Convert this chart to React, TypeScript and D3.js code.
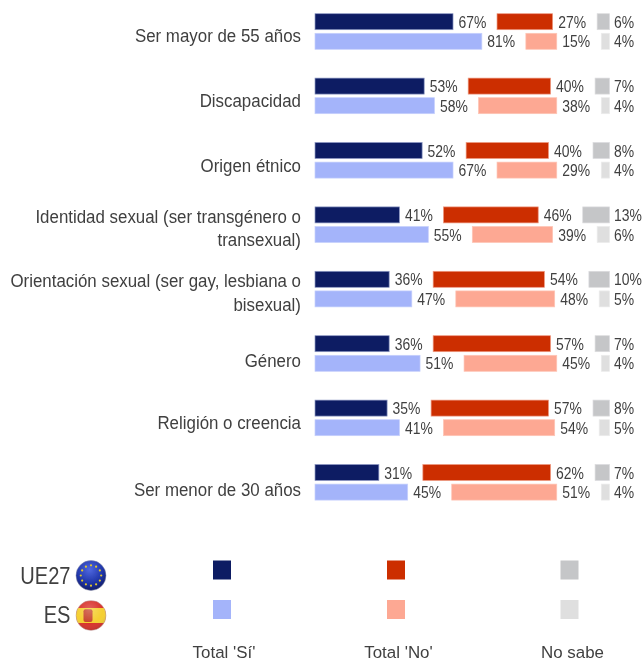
import React from 'react';
import * as d3 from 'd3';

const categories = [
  ['Ser mayor de 55 años'],
  ['Discapacidad'],
  ['Origen étnico'],
  ['Identidad sexual (ser transgénero o', 'transexual)'],
  ['Orientación sexual (ser gay, lesbiana o', 'bisexual)'],
  ['Género'],
  ['Religión o creencia'],
  ['Ser menor de 30 años'],
];
const euYes = [67, 53, 52, 41, 36, 36, 35, 31];
const euNo = [27, 40, 40, 46, 54, 57, 57, 62];
const euDk = [6, 7, 8, 13, 10, 7, 8, 7];
const esYes = [81, 58, 67, 55, 47, 51, 41, 45];
const esNo = [15, 38, 29, 39, 48, 45, 54, 51];
const esDk = [4, 4, 4, 6, 5, 4, 5, 4];
const legendLabels = ["Total 'Sí'", "Total 'No'", 'No sabe'];
const colors = {
  euYes: '#0f1e64', esYes: '#a4b4fa',
  euNo: '#cc2e02', esNo: '#fda893',
  euDk: '#c5c6c8', esDk: '#dfdfdf',
};
const text = '#3f3f3f';
const font = '"Liberation Sans", Arial, sans-serif';
const stars = d3.range(12);
const labelBaselines = [41.7, 106.7, 171.7, 222.7, 287.3, 367.3, 429.3, 496];

const x = d3.scaleLinear().domain([0, 100]).range([0, 206]);
const rowY = d3.scaleLinear().domain([0, 7]).range([13.7, 464.5]);
const x0 = 315;
const gap = 44;
const dkRight = 609.5;
const barH = 16;
const lightOffset = 19.6;

function Val({ px, py, children }: any) {
  return (
    <text transform={`translate(${px},${py}) scale(0.82,1)`} fill={text} fontSize={17} fontFamily={font}>{children}</text>
  );
}

function Lab({ px, py, anchor, children }: any) {
  return (
    <text transform={`translate(${px},${py}) scale(0.913,1)`} textAnchor={anchor} fill={text} fontSize={18.5} fontFamily={font}>{children}</text>
  );
}

function Bars({ yes, no, dk, y, c }: any) {
  const yesEnd = x0 + x(yes);
  const noStart = yesEnd + gap;
  const noEnd = noStart + x(no);
  const dkStart = dkRight - x(dk);
  const ty = y + barH / 2 + 6;
  const bars = [
    [x0, x(yes), c[0], c[3]],
    [noStart, x(no), c[1], c[4]],
    [dkStart, x(dk), c[2], c[5]],
  ];
  return (
    <g>
      {bars.map((b: any, i) => (
        <rect key={i} x={b[0]} y={y} width={b[1]} height={barH} fill={b[2]} stroke={b[3]} strokeWidth={0.7} />
      ))}
      <Val px={yesEnd + 5.5} py={ty}>{yes}%</Val>
      <Val px={noEnd + 5.5} py={ty}>{no}%</Val>
      <Val px={dkRight + 4.5} py={ty}>{dk}%</Val>
    </g>
  );
}

function EuFlag({ cx, cy, r }: any) {
  return (
    <g>
      <circle cx={cx} cy={cy} r={r} fill="url(#eu)" stroke="#8a8fa8" strokeWidth={0.5} />
      {stars.map((i) => {
        const a = (i / stars.length) * 2 * Math.PI;
        return <circle key={i} cx={cx + Math.cos(a) * r * 0.68} cy={cy + Math.sin(a) * r * 0.68} r={1.1} fill="#e3c92c" />;
      })}
    </g>
  );
}

function EsFlag({ cx, cy, r }: any) {
  return (
    <g>
      <clipPath id="esclip"><circle cx={cx} cy={cy} r={r} /></clipPath>
      <g clipPath="url(#esclip)">
        <rect x={cx - r} y={cy - r} width={r * 2} height={r * 2} fill="#d8302a" />
        <rect x={cx - r} y={cy - r * 0.5} width={r * 2} height={r} fill="#f5cf30" />
        <rect x={cx - r * 0.5} y={cy - r * 0.42} width={r * 0.6} height={r * 0.85} rx={2} fill="#c8452c" />
        <circle cx={cx} cy={cy} r={r} fill="url(#gloss)" />
      </g>
      <circle cx={cx} cy={cy} r={r} fill="none" stroke="#b9a0a0" strokeWidth={0.5} />
    </g>
  );
}

export default function App() {
  const legendX = [222, 396, 569.5];
  const labelX = [224, 398.5, 572.5];
  const legendC = [[colors.euYes, colors.esYes], [colors.euNo, colors.esNo], [colors.euDk, colors.esDk]];
  return (
    <svg width={642} height={661} style={{ position: 'absolute', left: 0, top: 0, background: '#fff' }}>
      <defs>
        <radialGradient id="eu" cx="45%" cy="30%" r="75%">
          <stop offset="0%" stopColor="#5068e0" />
          <stop offset="60%" stopColor="#1f35a8" />
          <stop offset="100%" stopColor="#10195c" />
        </radialGradient>
        <radialGradient id="gloss" cx="45%" cy="30%" r="75%">
          <stop offset="0%" stopColor="#fff" stopOpacity={0.25} />
          <stop offset="60%" stopColor="#fff" stopOpacity={0} />
          <stop offset="100%" stopColor="#000" stopOpacity={0.2} />
        </radialGradient>
        <filter id="soft" x="0" y="0" width="100%" height="100%">
          <feGaussianBlur stdDeviation={0.35} />
        </filter>
      </defs>
      <g filter="url(#soft)">
        <rect width={642} height={661} fill="#fff" />
        {categories.map((lines, i) => {
          const y = rowY(i);
          return (
            <g key={i}>
              {lines.map((l, j) => (
                <Lab key={j} px={301} py={labelBaselines[i] + j * 23.4} anchor="end">{l}</Lab>
              ))}
              <Bars yes={euYes[i]} no={euNo[i]} dk={euDk[i]} y={y}
                c={[colors.euYes, colors.euNo, colors.euDk, '#8d98c4', '#ee9a80', '#dcdcde']} />
              <Bars yes={esYes[i]} no={esNo[i]} dk={esDk[i]} y={y + lightOffset}
                c={[colors.esYes, colors.esNo, colors.esDk, '#c6d0fc', '#fec5b6', '#ececec']} />
            </g>
          );
        })}
        {legendLabels.map((l, i) => (
          <g key={l}>
            <rect x={legendX[i] - 9} y={560.5} width={18} height={19} fill={legendC[i][0]} />
            <rect x={legendX[i] - 9} y={600} width={18} height={19} fill={legendC[i][1]} />
            <text x={labelX[i]} y={657.5} textAnchor="middle" fill={text} fontSize={16.9} fontFamily={font}>{l}</text>
          </g>
        ))}
        <text transform="translate(70.5,584) scale(0.82,1)" textAnchor="end" fill={text} fontSize={24.5} fontFamily={font}>UE27</text>
        <text transform="translate(70.5,623) scale(0.82,1)" textAnchor="end" fill={text} fontSize={24.5} fontFamily={font}>ES</text>
        <EuFlag cx={91} cy={575.5} r={15} />
        <EsFlag cx={91} cy={615.5} r={15} />
      </g>
    </svg>
  );
}
